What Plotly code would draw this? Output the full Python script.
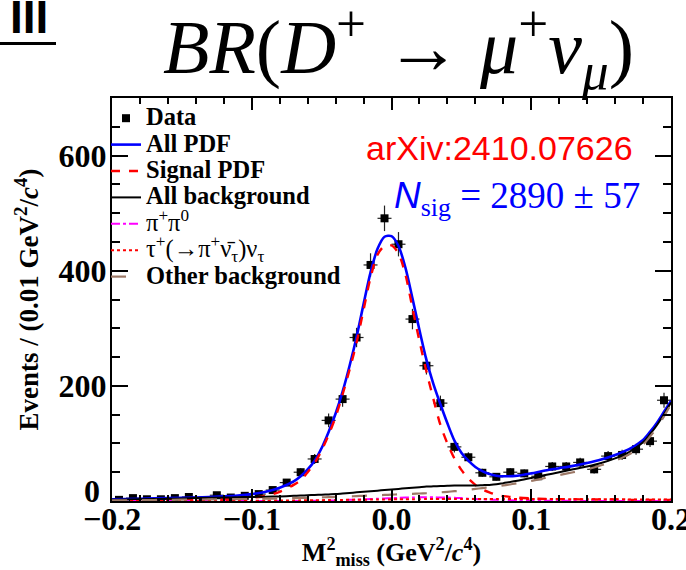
import numpy as np
import plotly.graph_objects as go

# ---- binned data: missing-mass-squared histogram (0.01 GeV^2/c^4 bins) ----
bin_centers = [-0.195, -0.185, -0.175, -0.165, -0.155, -0.145, -0.135, -0.125, -0.115, -0.105,
               -0.095, -0.085, -0.075, -0.065, -0.055, -0.045, -0.035, -0.025, -0.015, -0.005,
               0.005, 0.015, 0.025, 0.035, 0.045, 0.055, 0.065, 0.075, 0.085, 0.095,
               0.105, 0.115, 0.125, 0.135, 0.145, 0.155, 0.165, 0.175, 0.185, 0.195]
counts = [2, 5, 3, 3, 5, 7, 1, 10, 6, 9,
          12, 19, 32, 50, 73, 140, 177, 284, 410, 491,
          446, 316, 235, 170, 94, 76, 49, 42, 50, 48,
          43, 60, 60, 67, 55, 78, 80, 90, 104, 175]
bin_half_width = 0.005

# ---- fit components sampled along M2miss ----
curve_x = [-0.20, -0.18, -0.16, -0.14, -0.12, -0.11, -0.10, -0.09, -0.08, -0.07,
           -0.065, -0.06, -0.055, -0.05, -0.045, -0.04, -0.035, -0.03, -0.025, -0.02,
           -0.015, -0.01, -0.005, 0.0, 0.005, 0.01, 0.015, 0.02, 0.025, 0.03,
           0.035, 0.04, 0.045, 0.05, 0.055, 0.06, 0.065, 0.07, 0.075, 0.08,
           0.09, 0.10, 0.11, 0.12, 0.13, 0.14, 0.15, 0.16, 0.17, 0.18,
           0.185, 0.19, 0.195, 0.20]
all_pdf = [3, 4, 5, 6, 8, 9.5, 12, 16, 23, 34,
           43, 55, 70, 92, 120, 152, 190, 235, 285, 342,
           397, 438, 459, 460, 443, 405, 352, 297, 245, 203,
           168, 135, 105, 84, 70, 59, 52, 47, 44, 43,
           44, 48, 53, 57, 61, 66, 72, 80, 90, 106,
           120, 136, 155, 174]
signal_pdf = [0.5, 1, 1.5, 2, 3, 4, 5.5, 9, 16, 28,
              36, 50, 66, 88, 115, 146, 185, 228, 275, 332,
              388, 428, 443, 444, 430, 393, 335, 278, 225, 177,
              132, 100, 74, 54, 39, 28, 20, 15, 11, 8.5,
              6, 4.5, 3.5, 3, 3, 2.5, 2.5, 2.5, 2, 2,
              2, 2, 2, 2]
all_bkg = [2, 3, 4, 5, 6, 6.5, 7, 7.5, 8, 9,
           9.5, 10, 10.5, 11, 11.5, 12, 13, 14, 15, 16,
           17, 18, 19, 20, 21, 22, 23, 24, 25, 25.5,
           26, 26.5, 27, 27, 27, 27, 27.5, 28, 29, 31,
           35, 40, 45, 50, 55, 60, 66, 74, 85, 102,
           116, 132, 151, 171]
pipi0_bkg = [0, 0, 0, 0, 0, 0, 0, 0, 0, 0,
             0, 0.1, 0.3, 0.5, 0.8, 1, 1.5, 2, 2.5, 3,
             3.5, 4, 4.5, 5, 5.5, 6, 6, 6.5, 6.5, 6.5,
             6, 6, 5.5, 5, 4, 3.5, 3, 2.5, 2, 1.5,
             1, 0.5, 0.3, 0.3, 0.2, 0.2, 0.2, 0.2, 0.2, 0.2,
             0.2, 0.2, 0.2, 0.2]
taunu_bkg = [0, 0.1, 0.2, 0.3, 0.4, 0.45, 0.5, 0.6, 0.8, 1.0,
             1.1, 1.2, 1.35, 1.5, 1.65, 1.8, 1.95, 2.1, 2.2, 2.3,
             2.45, 2.6, 2.7, 2.8, 2.9, 3.0, 3.1, 3.2, 3.3, 3.35,
             3.4, 3.5, 3.5, 3.55, 3.6, 3.6, 3.6, 3.6, 3.6, 3.6,
             3.55, 3.5, 3.4, 3.3, 3.2, 3.1, 3.0, 2.9, 2.8, 2.7,
             2.65, 2.6, 2.55, 2.5]
other_bkg = [1, 1.5, 2, 2.5, 3, 3.3, 3.6, 4, 4.5, 5,
             5.3, 5.6, 6, 6.3, 6.7, 7, 7.5, 8, 8.5, 9,
             9.5, 10, 10.5, 11, 11.5, 12, 12.5, 13, 13.5, 14,
             15, 16, 17, 18, 19.5, 21, 22.5, 24, 25.5, 27,
             31, 35, 40, 45, 50, 55, 62, 70, 81, 98,
             112, 128, 147, 168]

x_ticks = [-0.2, -0.1, 0.0, 0.1, 0.2]
x_ticktext = ["\u22120.2", "\u22120.1", "0.0", "0.1", "0.2"]
y_ticks = [200, 400, 600]
y_ticktext = ["200", "400", "600"]

# ---- canvas geometry ----
W_PX, H_PX = 686, 570
L, R, T, B = 112, 15, 98, 69
PW, PH = W_PX - L - R, H_PX - T - B


def px_x(px):
    return (px - L) / PW


def px_y(py):
    return 1 - (py - T) / PH


SERIF = "Liberation Serif"
SANS = "Liberation Sans"
LEG = '<span style="font-size:24.5px">{}</span>'
TICK_SIZE = 32

fig = go.Figure()

fig.add_trace(go.Scatter(
    x=bin_centers, y=counts, mode="markers", name=LEG.format("<b>Data</b>"),
    marker=dict(symbol="square", size=8, color="black"),
    error_y=dict(type="data", array=np.sqrt(counts), color="#222222", thickness=1.2, width=0),
    error_x=dict(type="constant", value=bin_half_width, color="#222222", thickness=1.2, width=0),
))

curve_styles = [
    (all_pdf, "<b>All PDF</b>", "#0000ff", "solid", 2.6),
    (signal_pdf, "<b>Signal PDF</b>", "#ff0000", "dash", 2.4),
    (all_bkg, "<b>All background</b>", "black", "solid", 2.0),
    (pipi0_bkg, "\u03c0<sup>+</sup>\u03c0<sup>0</sup>", "#ff00ff", "dashdot", 2.0),
    (taunu_bkg, "\u03c4<sup>+</sup>(\u2192\u03c0<sup>+</sup>\u03bd\u0304<sub>\u03c4</sub>)\u03bd<sub>\u03c4</sub>",
     "#ff0000", "dot", 2.0),
    (other_bkg, "<b>Other background</b>", "#9c7866", "longdash", 2.2),
]
for ys, label, color, dash, width in curve_styles:
    fig.add_trace(go.Scatter(
        x=curve_x, y=ys, mode="lines", name=LEG.format(label),
        line=dict(color=color, dash=dash, width=width, shape="spline", smoothing=0.8),
    ))

axis_common = dict(
    showline=True, linecolor="black", linewidth=2, mirror="ticks",
    ticks="inside", tickcolor="black", tickwidth=1.5,
    showgrid=False, zeroline=False,
    tickfont=dict(family=SERIF, size=TICK_SIZE, color="black", weight="bold"),
    ticklabeloverflow="allow",
)
fig.update_xaxes(
    range=[-0.2, 0.2], tickvals=x_ticks, ticktext=x_ticktext, ticklen=12,
    minor=dict(dtick=0.02, tick0=0, ticklen=6, ticks="inside", tickcolor="black", tickwidth=1.5),
    title=dict(text="<b>M<sup>2</sup><sub>miss</sub> (GeV<sup>2</sup>/<i>c</i><sup>4</sup>)</b>",
               font=dict(family=SERIF, size=26, color="black"), standoff=2),
    ticklabelstandoff=-11,
    **axis_common,
)
fig.update_yaxes(
    range=[0, 700], tickvals=y_ticks, ticktext=y_ticktext, ticklen=16,
    minor=dict(dtick=50, tick0=0, ticklen=8, ticks="inside", tickcolor="black", tickwidth=1.5),
    title=dict(text="<b>Events / (0.01 GeV<sup>2</sup>/<i>c</i><sup>4</sup>)</b>",
               font=dict(family=SERIF, size=27, color="black"), standoff=12),
    ticklabelstandoff=-3,
    **axis_common,
)

annotations = [
    # zero label of the y axis, sitting just above the x-axis labels
    dict(x=-0.2, y=0, xref="x", yref="y", text="<b>0</b>", showarrow=False,
         xanchor="right", yanchor="middle", xshift=-10, yshift=10,
         font=dict(family=SERIF, size=TICK_SIZE, color="black")),
    dict(x=px_x(398), y=px_y(48), xref="paper", yref="paper", showarrow=False,
         xanchor="center", yanchor="middle",
         text="<i>BR</i>(<i>D</i><sup>+</sup> \u2192 <i>\u03bc</i><sup>+</sup><i>\u03bd</i><sub><i>\u03bc</i></sub>)",
         font=dict(family=SERIF, size=76, color="black")),
    dict(x=px_x(8), y=px_y(17), xref="paper", yref="paper", showarrow=False,
         xanchor="left", yanchor="middle", text="<b>III</b>",
         font=dict(family=SANS, size=46, color="black")),
    dict(x=px_x(364), y=px_y(148), xref="paper", yref="paper", showarrow=False,
         xanchor="left", yanchor="middle", text="arXiv:2410.07626",
         font=dict(family=SANS, size=34, color="#ff0000")),
    dict(x=px_x(392), y=px_y(198), xref="paper", yref="paper", showarrow=False,
         xanchor="left", yanchor="middle",
         text='<span style="font-family:Liberation Sans"><i>N</i></span><sub>sig</sub> = 2890 \u00b1 57',
         font=dict(family=SERIF, size=37, color="#0000ff")),
]

shapes = [
    dict(type="line", xref="paper", yref="paper", x0=px_x(0), x1=px_x(56),
         y0=px_y(43.5), y1=px_y(43.5), line=dict(color="black", width=3)),
]

fig.update_layout(
    width=W_PX, height=H_PX,
    margin=dict(l=L, r=R, t=T, b=B, autoexpand=False),
    paper_bgcolor="white", plot_bgcolor="white",
    showlegend=True,
    legend=dict(x=px_x(106), y=px_y(100), xanchor="left", yanchor="top",
                bgcolor="rgba(0,0,0,0)", borderwidth=0,
                font=dict(family=SERIF, size=18, color="black"),
                itemwidth=30, tracegroupgap=0),
    annotations=annotations, shapes=shapes,
)

fig.write_html("out.html")
